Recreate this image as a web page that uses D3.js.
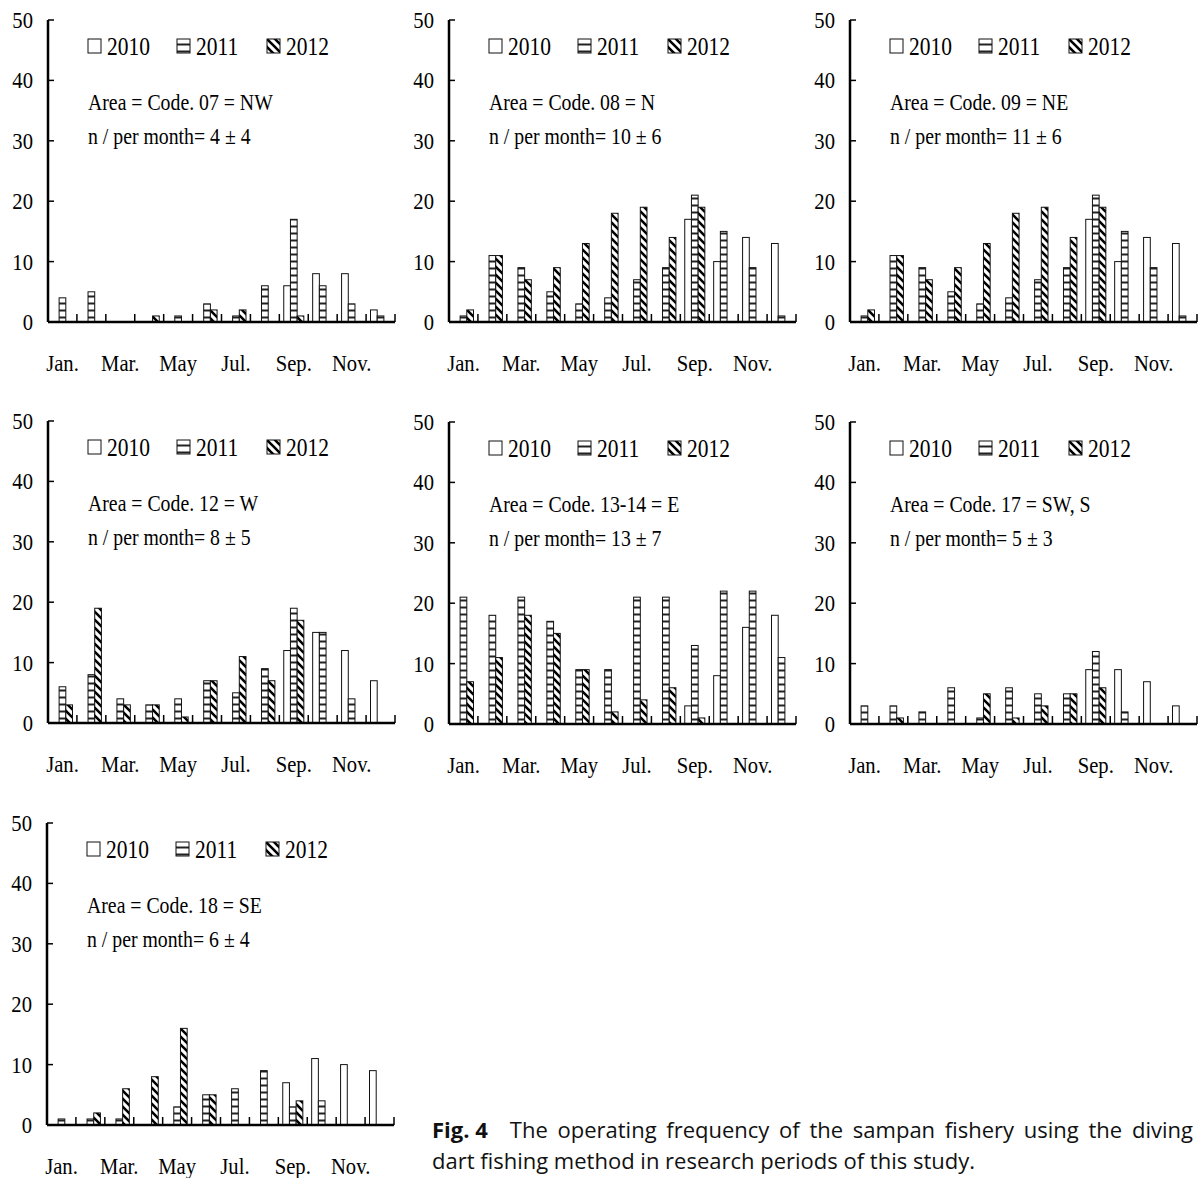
<!DOCTYPE html>
<html>
<head>
<meta charset="utf-8">
<script src="https://cdn.jsdelivr.net/npm/d3@7"></script>
<style>
  body { margin: 0; background: #fff; }
  svg { display: block; }
  .lab { font-family: "Liberation Serif", "Times New Roman", serif; fill: #000; }
  .cap { font-family: "Open Sans", "Noto Sans", sans-serif; font-size: 22px; fill: #111; }
</style>
</head>
<body>
<div id="chart"></div>
<script>

// months on the x axis, only every other one gets a label
var months = ["Jan.", "Feb.", "Mar.", "Apr.", "May", "Jun.", "Jul.", "Aug.", "Sep.", "Oct.", "Nov.", "Dec."];
var years = ["2010", "2011", "2012"];
var yTicks = [0, 10, 20, 30, 40, 50];

// area labels
var areaNames = ["07 = NW", "08 = N", "09 = NE", "12 = W", "13-14 = E", "17 = SW, S", "18 = SE"];
var perMonth = ["4 \u00b1 4", "10 \u00b1 6", "11 \u00b1 6", "8 \u00b1 5", "13 \u00b1 7", "5 \u00b1 3", "6 \u00b1 4"];

// operating frequency per month, one array per year, per area
var nw2010 = [0, 0, 0, 0, 0, 0, 0, 0, 6, 8, 8, 2];
var nw2011 = [4, 5, 0, 0, 1, 3, 1, 6, 17, 6, 3, 1];
var nw2012 = [0, 0, 0, 1, 0, 2, 2, 0, 1, 0, 0, 0];

var n2010 = [0, 0, 0, 0, 0, 0, 0, 0, 17, 10, 14, 13];
var n2011 = [1, 11, 9, 5, 3, 4, 7, 9, 21, 15, 9, 1];
var n2012 = [2, 11, 7, 9, 13, 18, 19, 14, 19, 0, 0, 0];

var ne2010 = [0, 0, 0, 0, 0, 0, 0, 0, 17, 10, 14, 13];
var ne2011 = [1, 11, 9, 5, 3, 4, 7, 9, 21, 15, 9, 1];
var ne2012 = [2, 11, 7, 9, 13, 18, 19, 14, 19, 0, 0, 0];

var w2010 = [0, 0, 0, 0, 0, 0, 0, 0, 12, 15, 12, 7];
var w2011 = [6, 8, 4, 3, 4, 7, 5, 9, 19, 15, 4, 0];
var w2012 = [3, 19, 3, 3, 1, 7, 11, 7, 17, 0, 0, 0];

var e2010 = [0, 0, 0, 0, 0, 0, 0, 0, 3, 8, 16, 18];
var e2011 = [21, 18, 21, 17, 9, 9, 21, 21, 13, 22, 22, 11];
var e2012 = [7, 11, 18, 15, 9, 2, 4, 6, 1, 0, 0, 0];

var s2010 = [0, 0, 0, 0, 0, 0, 0, 0, 9, 9, 7, 3];
var s2011 = [3, 3, 2, 6, 1, 6, 5, 5, 12, 2, 0, 0];
var s2012 = [0, 1, 0, 0, 5, 1, 3, 5, 6, 0, 0, 0];

var se2010 = [0, 0, 0, 0, 0, 0, 0, 0, 7, 11, 10, 9];
var se2011 = [1, 1, 1, 0, 3, 5, 6, 9, 3, 4, 0, 0];
var se2012 = [0, 2, 6, 8, 16, 5, 0, 0, 4, 0, 0, 0];

var series = [
  [nw2010, nw2011, nw2012],
  [n2010, n2011, n2012],
  [ne2010, ne2011, ne2012],
  [w2010, w2011, w2012],
  [e2010, e2011, e2012],
  [s2010, s2011, s2012],
  [se2010, se2011, se2012]
];

// where each panel's plot box sits (left, top of the 50 line)
var panelPos = [[48, 20], [449, 20], [850, 20], [48, 421], [449, 422], [850, 422], [47, 823]];

var W = 347, H = 302;
var sx = 0.86; // text in the figure is horizontally squeezed

var svg = d3.select("#chart").append("svg")
  .attr("width", 1198)
  .attr("height", 1178);

var defs = svg.append("defs");

var hp = defs.append("pattern")
  .attr("id", "hstripe")
  .attr("patternUnits", "userSpaceOnUse")
  .attr("width", 7).attr("height", 7);
hp.append("rect").attr("width", 7).attr("height", 7).attr("fill", "#fff");
hp.append("rect").attr("y", 2.5).attr("width", 7).attr("height", 2).attr("fill", "#222");

var dp = defs.append("pattern")
  .attr("id", "dstripe")
  .attr("patternUnits", "userSpaceOnUse")
  .attr("width", 8).attr("height", 8);
dp.append("rect").attr("width", 8).attr("height", 8).attr("fill", "#fff");
dp.append("path")
  .attr("d", "M-2,-2L10,10M-6,2L2,10M6,-2L10,2")
  .attr("stroke", "#000").attr("stroke-width", 2.6);

var fills = ["#fff", "url(#hstripe)", "url(#dstripe)"];

function txt(g, x, y, str, anchor, size) {
  return g.append("text")
    .attr("class", "lab")
    .attr("transform", "translate(" + x + "," + y + ") scale(" + sx + ",1)")
    .attr("text-anchor", anchor)
    .style("font-size", size + "px")
    .text(str);
}

function drawPanel(i) {
  var left = panelPos[i][0], top = panelPos[i][1];
  var g = svg.append("g").attr("transform", "translate(" + left + "," + top + ")");

  var x0 = d3.scaleBand().domain(months).range([0, W]).paddingInner(0).paddingOuter(0);
  var x1 = d3.scaleBand().domain(years).range([0, x0.bandwidth()]).paddingInner(0).paddingOuter(0.66);
  var y = d3.scaleLinear().domain([0, 50]).range([H, 0]);

  // bars
  years.forEach(function(yr, k) {
    var vals = series[i][k];
    g.append("g").selectAll("rect")
      .data(vals.map(function(v, m) { return { m: months[m], v: v }; }).filter(function(d) { return d.v > 0; }))
      .enter().append("rect")
      .attr("x", function(d) { return x0(d.m) + x1(yr); })
      .attr("y", function(d) { return y(d.v); })
      .attr("width", x1.bandwidth())
      .attr("height", function(d) { return H - y(d.v); })
      .attr("fill", fills[k])
      .attr("stroke", "#111")
      .attr("stroke-width", 1);
  });

  // x axis: ticks at the month boundaries, pointing up
  var bounds = months.map(function(m) { return x0(m) + x0.bandwidth(); });
  g.append("g").selectAll("line")
    .data(bounds)
    .enter().append("line")
    .attr("x1", function(d) { return d; })
    .attr("x2", function(d) { return d; })
    .attr("y1", H).attr("y2", H - 8)
    .attr("stroke", "#000").attr("stroke-width", 1.5);
  g.append("line")
    .attr("x1", 0).attr("x2", W)
    .attr("y1", H).attr("y2", H)
    .attr("stroke", "#000").attr("stroke-width", 2.5);

  months.forEach(function(m, j) {
    if (j % 2 == 0) txt(g, x0(m) + x0.bandwidth() / 2, H + 49, m, "middle", 24);
  });

  // y axis
  g.append("line")
    .attr("x1", 0).attr("x2", 0)
    .attr("y1", 0).attr("y2", H)
    .attr("stroke", "#000").attr("stroke-width", 2.5);
  g.append("g").selectAll("line")
    .data(yTicks)
    .enter().append("line")
    .attr("x1", 0).attr("x2", 6)
    .attr("y1", function(d) { return y(d); })
    .attr("y2", function(d) { return y(d); })
    .attr("stroke", "#000").attr("stroke-width", 1.5);
  yTicks.forEach(function(t) {
    txt(g, -15, y(t) + 8, t, "end", 24);
  });

  // legend
  var legX = [40, 129, 219];
  years.forEach(function(yr, k) {
    g.append("rect")
      .attr("x", legX[k]).attr("y", 19)
      .attr("width", 13).attr("height", 14)
      .attr("fill", fills[k])
      .attr("stroke", "#111").attr("stroke-width", 1);
    txt(g, legX[k] + 19, 35, yr, "start", 25);
  });

  txt(g, 40, 90, "Area = Code. " + areaNames[i], "start", 23);
  txt(g, 40, 124, "n / per month= " + perMonth[i], "start", 23);
}

for (var i = 0; i < series.length; i++) drawPanel(i);

// caption
var cap = svg.append("g");
var l1 = cap.append("text").attr("class", "cap").attr("x", 432).attr("y", 1138);
l1.append("tspan").style("font-weight", "bold").text("Fig. 4");
l1.append("tspan").attr("dx", 22).style("word-spacing", "4px")
  .text("The operating frequency of the sampan fishery using the diving");
cap.append("text").attr("class", "cap").attr("x", 432).attr("y", 1169)
  .text("dart fishing method in research periods of this study.");

</script>
</body>
</html>
